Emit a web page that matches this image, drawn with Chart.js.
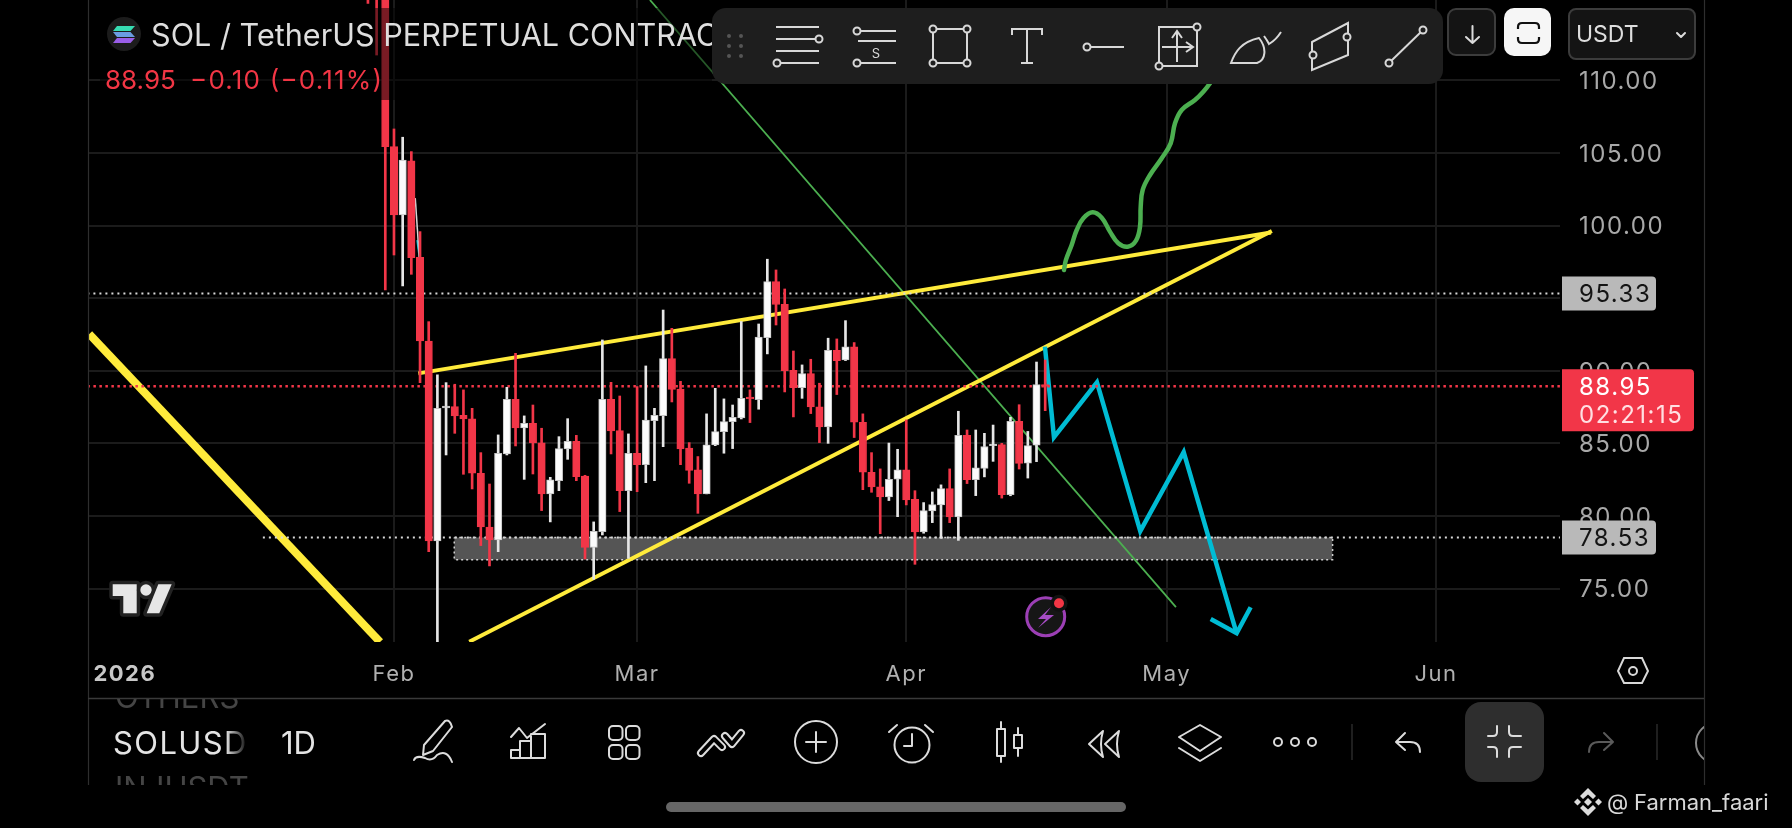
<!DOCTYPE html>
<html>
<head>
<meta charset="utf-8">
<title>SOLUSDT 1D</title>
<script src="https://cdn.jsdelivr.net/npm/chart.js@4"></script>
<style>
html, body { margin: 0; padding: 0; background: #000; width: 1792px; height: 828px; overflow: hidden; }
#wrap { position: relative; width: 1792px; height: 828px; }
canvas { position: absolute; left: 0; top: 0; }
svg { position: absolute; left: 0; top: 0; font-family: Inter, sans-serif; }
.ic { fill: none; stroke: #dcdcdc; stroke-width: 2; stroke-linecap: round; stroke-linejoin: round; }
.tb { fill: none; stroke: #d8d8d8; stroke-width: 2; }
.kn { fill: #1e1e1e; stroke: #d8d8d8; stroke-width: 2; }
</style>
</head>
<body>
<div id="wrap">
<canvas id="grafica" width="1792" height="828"></canvas>
<svg width="1792" height="828" viewBox="0 0 1792 828">
  <defs>
    <linearGradient id="fade" gradientUnits="userSpaceOnUse" x1="226" x2="248" y1="0" y2="0">
      <stop offset="0" stop-color="#e4e4e4"/><stop offset="1" stop-color="#e4e4e4" stop-opacity="0"/>
    </linearGradient>
    <clipPath id="clipOthers"><rect x="88" y="699" width="160" height="30"/></clipPath>
    <clipPath id="clipInj"><rect x="88" y="760" width="160" height="25"/></clipPath>
    <clipPath id="clipRight"><rect x="1680" y="700" width="24" height="85"/></clipPath>
  </defs>

  <!-- legend backdrop + title -->
  <rect x="100" y="8" width="612" height="92" fill="rgba(0,0,0,0.5)"/>
  <circle cx="124" cy="34" r="17" fill="#1c1c1c"/>
  <path d="M117 26 H135 L130.5 31 H113 Z" fill="#37dcb2"/>
  <path d="M113 32 H130.5 L135 37 H117 Z" fill="#6a9de2"/>
  <path d="M117 38 H135 L130.5 43 H113 Z" fill="#9a5ee8"/>
  <text x="151" y="46" font-size="30.6" fill="#dedede">SOL / TetherUS PERPETUAL CONTRACT</text>
  <text x="105" y="89" font-size="26" fill="#f23645">88.95</text>
  <text x="190" y="89" font-size="26" fill="#f23645" textLength="192" lengthAdjust="spacing">−0.10 (−0.11%)</text>

  <!-- tradingview logo -->
  <g fill="#e6e6e6" stroke="#222" stroke-width="7" paint-order="stroke" stroke-linejoin="round">
    <path d="M112.7 584.3 H136.7 V613.3 H123.3 V596 H112.7 Z"/>
    <circle cx="146" cy="590" r="5.7"/>
    <path d="M158.3 584.3 H171.7 L159.3 613.3 H146.7 Z"/>
  </g>

  <!-- lightning badge -->
  <circle cx="1045.7" cy="616.7" r="19" fill="#161616" stroke="#9c3fb5" stroke-width="3"/>
  <path d="M1051 607 L1038 619 L1046 619 L1038 628 L1054 615 L1045 615 Z" fill="#a64cc4"/>
  <circle cx="1059" cy="603.3" r="8.5" fill="#111"/>
  <circle cx="1059" cy="603.3" r="5" fill="#f23645"/>

  <!-- floating drawing toolbar -->
  <rect x="712" y="8" width="731" height="76" rx="14" fill="#1e1e1e"/>
  <g fill="#555">
    <circle cx="729" cy="36" r="2"/><circle cx="741" cy="36" r="2"/>
    <circle cx="729" cy="46" r="2"/><circle cx="741" cy="46" r="2"/>
    <circle cx="729" cy="56" r="2"/><circle cx="741" cy="56" r="2"/>
  </g>
  <path class="tb" d="M776 27 H819 M776 39 H816 M776 51 H819 M780 63 H819"/>
  <circle class="kn" cx="819" cy="39" r="3.5"/><circle class="kn" cx="777" cy="63" r="3.5"/>
  <path class="tb" d="M860 31 H896 M858 41 H896 M860 63 H896"/>
  <circle class="kn" cx="857" cy="31" r="3.5"/><circle class="kn" cx="857" cy="63" r="3.5"/>
  <text x="876" y="58" font-size="13" fill="#d8d8d8" text-anchor="middle">S</text>
  <path class="tb" d="M933 29 H967 V63 H933 Z"/>
  <circle class="kn" cx="933" cy="29" r="3.5"/><circle class="kn" cx="967" cy="29" r="3.5"/>
  <circle class="kn" cx="933" cy="63" r="3.5"/><circle class="kn" cx="967" cy="63" r="3.5"/>
  <path class="tb" d="M1012 35 V29 H1042 V35 M1027 29 V63 M1021 63 H1033"/>
  <path class="tb" d="M1090 47 H1124"/><circle class="kn" cx="1087" cy="47" r="3.5"/>
  <path class="tb" d="M1159 66 V27 H1197 V66 Z M1177 62 V31 M1172 38 L1177 31 L1182 38 M1162 47 H1193 M1186 42 L1193 47 L1186 52"/>
  <circle class="kn" cx="1197" cy="27" r="3.5"/><circle class="kn" cx="1159" cy="66" r="3.5"/>
  <path class="tb" d="M1231 63 C1235 52 1241 42 1259 38 C1267 48 1266 60 1257 63 Z M1264 36 Q1267 40 1269 44 Q1276 40 1281 32"/>
  <path class="tb" d="M1312 42 L1348 23 V55 L1312 70 Z"/>
  <circle class="kn" cx="1313" cy="55" r="3.5"/><circle class="kn" cx="1347" cy="37" r="3.5"/>
  <path class="tb" d="M1389 63 L1423 30"/>
  <circle class="kn" cx="1389" cy="63" r="3.5"/><circle class="kn" cx="1423" cy="30" r="3.5"/>

  <!-- top right buttons -->
  <rect x="1448" y="9" width="47" height="46" rx="8" fill="#141414" stroke="#3c3c3c" stroke-width="2"/>
  <path class="ic" d="M1472.5 26 V43 M1466 37 L1472.5 43 L1479 37"/>
  <rect x="1504" y="8" width="47" height="48" rx="10" fill="#f6f6f6"/>
  <path d="M1518 29 V27 Q1518 23 1522 23 H1535 Q1539 23 1539 27 V29 M1518 37 V39 Q1518 43 1522 43 H1535 Q1539 43 1539 39 V37" fill="none" stroke="#111" stroke-width="2.2"/>
  <rect x="1569" y="9" width="126" height="50" rx="7" fill="#141414" stroke="#3c3c3c" stroke-width="2"/>
  <text x="1576" y="42" font-size="23" fill="#dedede">USDT</text>
  <path class="ic" d="M1677 33 L1681 37 L1685 33"/>

  <!-- frame -->
  <path d="M88.5 0 V785 M1704.5 0 V785" stroke="#2e2e2e" stroke-width="1.2" fill="none"/>
  <path d="M88 698.5 H1704" stroke="#3a3a3a" stroke-width="1.5" fill="none"/>
  <path d="M1624 658 H1642 L1648 671 L1642 683 H1624 L1618 671 Z" fill="none" stroke="#d8d8d8" stroke-width="2"/>
  <circle cx="1633" cy="671" r="4" fill="none" stroke="#d8d8d8" stroke-width="2"/>

  <!-- bottom bar -->
  <g clip-path="url(#clipOthers)"><text x="115" y="708" font-size="31" fill="#454545">OTHERS</text></g>
  <text x="113" y="754" font-size="31" letter-spacing="1.4" fill="url(#fade)">SOLUSDT</text>
  <text x="281" y="754" font-size="31" fill="#e4e4e4">1D</text>
  <g clip-path="url(#clipInj)"><text x="115" y="799" font-size="31" fill="#454545">INJUSDT</text></g>

  <path class="ic" d="M445 721 Q450 719 452 727 L433 751 L423 755 L424 745 Z M414 760 Q416 755 425 758 Q432 762 437 755 Q447 749 452 762"/>
  <path class="ic" stroke-width="2.5" d="M511 737 L519 728 L527 738 L545 724 M511 758 V750 H520 V741 H531 V734 H545 V758 Z M520 750 V758 M531 741 V758"/>
  <g class="ic"><rect x="609" y="726" width="13.5" height="14" rx="4"/><rect x="626" y="726" width="13.5" height="14" rx="4"/><rect x="609" y="745" width="13.5" height="14" rx="4"/><rect x="626" y="745" width="13.5" height="14" rx="4"/></g>
  <path d="M701 753 L714 739 L722 747 M725 736 L732 744 L741 733" fill="none" stroke="#dcdcdc" stroke-width="8" stroke-linecap="round" stroke-linejoin="round"/>
  <path d="M701 753 L714 739 L722 747 M725 736 L732 744 L741 733" fill="none" stroke="#000" stroke-width="4" stroke-linecap="round" stroke-linejoin="round"/>
  <circle class="ic" cx="816" cy="742" r="21"/>
  <path class="ic" d="M816 732 V752 M806 742 H826"/>
  <circle class="ic" cx="912" cy="745" r="17.5"/>
  <path class="ic" d="M912 734 V746 H904 M897 725 L889 732 M925 725 L933 732"/>
  <path class="ic" d="M1001 722 V729 M1001 756 V762 M1018 728 V735 M1018 748 V756"/>
  <rect class="ic" x="997" y="729" width="8" height="27"/><rect class="ic" x="1014" y="735" width="8" height="13"/>
  <path class="ic" d="M1103 731 L1089 744 L1103 757 Q1099 744 1103 731 Z M1119 731 L1105 744 L1119 757 Q1115 744 1119 731 Z"/>
  <path class="ic" d="M1200 725 L1221 737 L1200 751 L1179 737 Z M1179 748 L1200 761 L1221 748"/>
  <circle class="ic" cx="1278" cy="742" r="4"/><circle class="ic" cx="1295" cy="742" r="4"/><circle class="ic" cx="1312" cy="742" r="4"/>
  <path d="M1352 724 V760 M1657 724 V760" stroke="#2a2a2a" stroke-width="1.5"/>
  <path class="ic" d="M1405 733 L1396 742 L1405 750 M1396 742 H1410 Q1420 742 1420 752"/>
  <rect x="1465" y="702" width="79" height="80" rx="16" fill="#2e2e2e"/>
  <path class="ic" d="M1497 726 V732 Q1497 736 1493 736 H1488 M1509 726 V732 Q1509 736 1513 736 H1521 M1488 747 H1493 Q1497 747 1497 751 V757 M1521 747 H1513 Q1509 747 1509 751 V757"/>
  <path d="M1604 733 L1613 742 L1604 750 M1613 742 H1599 Q1589 742 1589 752" fill="none" stroke="#5a5a5a" stroke-width="2" stroke-linecap="round" stroke-linejoin="round"/>
  <g clip-path="url(#clipRight)"><circle cx="1716" cy="743" r="20" fill="none" stroke="#8a8a8a" stroke-width="2"/></g>

  <rect x="666" y="802" width="460" height="10" rx="5" fill="#666"/>

  <!-- watermark -->
  <g fill="#dcdcdc">
    <path d="M1588 788 L1596 796 L1593 799 L1588 794.5 L1583 799 L1580 796 Z"/>
    <path d="M1588 816 L1596 808 L1593 805 L1588 809.5 L1583 805 L1580 808 Z"/>
    <path d="M1574 802 L1577.5 798.5 L1581 802 L1577.5 805.5 Z"/>
    <path d="M1595 802 L1598.5 798.5 L1602 802 L1598.5 805.5 Z"/>
    <path d="M1584 802 L1588 798 L1592 802 L1588 806 Z"/>
  </g>
  <text x="1607" y="810" font-size="22" fill="#d8d8d8">@</text>
  <text x="1634" y="810" font-size="22" fill="#d8d8d8">Farman_faari</text>
</svg>
</div>
<script>
// day number counted from 1 Jan 2026
const candleDays = [28,29,30,31,32,33,34,35,36,37,38,39,40,41,42,43,44,45,46,47,48,49,50,51,52,53,54,55,56,57,58,59,60,61,62,63,64,65,66,67,68,69,70,71,72,73,74,75,76,77,78,79,80,81,82,83,84,85,86,87,88,89,90,91,92,93,94,95,96,97,98,99,100,101,102,103,104,105,106]
const opens = [132,126,118,105.44,100.74,104.46,97.82,92.06,78.29,87.45,87.54,86.94,86.69,82.95,79.25,78.36,84.28,88.04,86.07,86.39,85.04,81.52,82.44,84.62,85.15,82.76,77.85,78.93,88.04,85.89,81.75,84.32,83.54,86.57,86.92,90.84,88.75,84.69,83.18,81.53,84.9,85.82,86.51,86.76,88.2,88.02,92.29,96.15,94.59,90.04,88.85,89.81,87.52,86.14,91.42,90.75,91.65,86.46,83.02,82.01,81.32,82.54,83.18,81.16,78.91,80.35,80.77,81.89,79.94,85.57,82.51,83.29,84.85,84.92,81.47,86.52,83.65,84.88,89.05]
const highs = [133,127,119,106.66,106.09,105.1,99.59,93.39,89.72,89.19,89.08,88.69,87.42,84.37,82.21,85.59,88.87,91.21,86.9,87.65,86.05,82.67,85.47,86.71,85.56,82.81,79.6,92.13,89.21,88.27,85.66,88.92,90.34,87.42,94.19,92.93,89.28,85.06,84.1,87.04,88.8,88.07,87.65,93.4,88.69,93.23,97.69,96.95,95.64,91.37,90.41,90.8,89.15,92.25,92.2,93.46,91.95,87.04,84.37,83.25,85.03,84.6,86.62,81.75,80.93,81.66,82.15,83.25,87.22,85.93,85.93,85.7,86.27,85.01,86.8,87.67,85.83,90.61,90.75]
const lows = [115.3,111.75,95.57,97.98,95.85,96.65,89.19,77.55,71,84.21,85.7,82.88,81.87,77.97,76.57,77.55,84.21,84.83,82.53,82.9,80.38,79.6,81.75,83.91,82.44,77.05,75.65,78.7,84.28,80.31,77.09,81.68,82.3,82.44,84.78,87.86,83.54,82.26,80.19,81.53,84.85,84.33,84.65,86.69,86.44,87.36,91.17,93.16,88.55,86.83,88.11,87.06,85.06,85.01,88.37,90.71,85.41,81.82,81.64,78.79,81.07,79.96,80.77,76.68,78.82,79.55,78.47,79.55,78.33,82.24,81.41,82.7,83.77,81.24,81.4,83.24,82.62,83.75,87.26]
const closes = [126,118,105.44,100.74,104.52,97.8,92.06,78.29,87.42,87.58,86.9,86.69,82.95,79.25,78.36,84.32,88.04,86.07,86.39,85.04,81.52,82.49,84.65,85.15,82.72,77.85,78.95,88.04,85.86,81.75,84.32,83.54,86.62,86.94,90.84,88.73,84.62,83.15,81.53,84.9,85.82,86.51,86.81,88.11,88.07,92.32,96.15,94.57,90.02,88.85,89.81,87.52,86.14,91.42,90.71,91.65,86.46,83.02,82.01,81.32,82.54,83.18,81.11,78.91,80.38,80.79,81.89,79.94,85.57,82.51,83.32,84.79,84.96,81.47,86.52,83.63,84.85,89.05,88.95]

const priceTicks = [75,80,85,90,95,100,105,110,115]
const monthTicks = [0,31,59,90,120,151]
const monthLabels = ['2026','Feb','Mar','Apr','May','Jun']

const lastPrice = 88.95
const countdown = '02:21:15'
const resistance = 95.33
const support = 78.53
const zoneBottom = 77
const zoneDays = [37.94,139.1]

// drawings, [day, price]
const wedgeTop = [[33.8,89.83],[132,99.53]]
const wedgeBottom = [[39.67,71.35],[132.1,99.63]]
const bigYellow = [[-4.1,92.54],[29.4,71.33]]
const thinGreen = [[60.48,115.54],[121.06,73.73]]
const strayWhite = [[33.45,101.9],[33.91,97.84]]
const strayCyan = [[33.65,99],[33.91,97.84]]
const greenPath = [[108.16,96.95],[108.39,97.64],[109.05,98.67],[109.63,99.7],[110.39,100.51],[111.47,100.92],[112.51,100.55],[113.46,99.59],[114.42,98.79],[115.5,98.55],[116.46,98.97],[116.92,99.93],[117,101.31],[117.23,102.46],[118.07,103.49],[119.42,104.64],[120.45,105.67],[120.95,107.05],[121.72,107.97],[123.25,108.66],[124.21,109.23],[124.98,109.81],[126.71,111.41]]
const cyanPath = [[105.97,91.67],[107.01,85.43],[111.96,89.21],[116.95,78.97],[121.95,84.41],[128.05,71.93]]
const cyanHead = [[125.06,72.91],[128.05,71.93],[129.66,73.72]]

const RED = '#f23648'
const WHITE = '#fbfbfb'
const GRID = '#1b1b1b'
const FONT = 'Inter, sans-serif'

const esSube = i => closes[i] >= opens[i]
const puntos = arr => arr.map(p => ({ x: p[0], y: p[1] }))
const linea = (arr, color, width, order, extra) => Object.assign({
    type: 'line',
    data: puntos(arr),
    borderColor: color,
    borderWidth: width,
    pointRadius: 0,
    tension: 0,
    fill: false,
    order: order
}, extra || {})

const wicks = candleDays.map((d, i) => ({ x: d, y: [lows[i], highs[i]] }))
const bodies = candleDays.map((d, i) => ({ x: d, y: [opens[i], closes[i]] }))

// price tags on the axis
const etiquetas = {
    id: 'etiquetas',
    beforeDraw(chart) {
        chart.ctx.letterSpacing = '1.5px'
    },
    afterDraw(chart) {
        const { ctx, scales } = chart
        const y = scales.y
        const tag = (value, color, textColor) => {
            const py = y.getPixelForValue(value)
            ctx.fillStyle = color
            ctx.beginPath()
            ctx.roundRect(1562, py - 17, 94, 34, [0, 4, 4, 0])
            ctx.fill()
            ctx.fillStyle = textColor
            ctx.font = '24px ' + FONT
            ctx.textAlign = 'left'
            ctx.textBaseline = 'middle'
            ctx.fillText(value.toFixed(2), 1579, py + 1.5)
        }
        tag(resistance, '#b9b9b9', '#141414')
        tag(support, '#b9b9b9', '#141414')

        const py = y.getPixelForValue(lastPrice)
        ctx.fillStyle = RED
        ctx.beginPath()
        ctx.roundRect(1562, py - 17, 132, 62, [0, 4, 4, 0])
        ctx.fill()
        ctx.font = '24px ' + FONT
        ctx.textAlign = 'left'
        ctx.textBaseline = 'middle'
        ctx.fillStyle = '#ffffff'
        ctx.fillText(lastPrice.toFixed(2), 1579, py + 1.5)
        ctx.fillStyle = '#ffdfe2'
        ctx.fillText(countdown, 1579, py + 29.5)
    }
}

new Chart(document.getElementById('grafica'), {
    type: 'bar',
    data: {
        datasets: [
            // body on top, wick under it, drawings and zone below the candles
            { data: bodies, grouped: false, order: 1, barPercentage: 1, categoryPercentage: 1, maxBarThickness: 7.4,
              backgroundColor: bodies.map((b, i) => esSube(i) ? WHITE : RED),
              borderColor: bodies.map((b, i) => esSube(i) ? '#c4c4c4' : RED),
              borderWidth: 1, borderSkipped: false },
            { data: wicks, grouped: false, order: 2, barPercentage: 1, categoryPercentage: 1, maxBarThickness: 2,
              backgroundColor: wicks.map((w, i) => esSube(i) ? '#e6e6e6' : RED) },
            linea([[-5, resistance], [166, resistance]], '#d8d8d8', 2, 3, { borderDash: [2, 4] }),
            linea([[-5, lastPrice], [166, lastPrice]], RED, 2.5, 3, { borderDash: [2.5, 3.5] }),
            linea([[15.9, support], [166, support]], '#d8d8d8', 2, 3, { borderDash: [2, 4] }),
            linea(cyanPath, '#00bcd4', 4.5, 4),
            linea(cyanHead, '#00bcd4', 4.5, 4),
            linea(greenPath, '#4caf50', 4.5, 4, { tension: 0.4, borderCapStyle: 'round' }),
            linea(wedgeTop, '#ffeb3b', 4, 5),
            linea(wedgeBottom, '#ffeb3b', 4, 5),
            linea(bigYellow, '#ffeb3b', 8, 5),
            linea(thinGreen, '#4caf50', 1.8, 5),
            linea(strayWhite, '#d8d8d8', 1.5, 5),
            linea(strayCyan, '#00bcd4', 1.5, 5),
            linea([[zoneDays[0], support], [zoneDays[1], support], [zoneDays[1], zoneBottom], [zoneDays[0], zoneBottom], [zoneDays[0], support]],
                '#d0d0d0', 1.5, 6, { borderDash: [2, 3] }),
            linea([[zoneDays[0], support], [zoneDays[1], support]], 'rgba(0,0,0,0)', 0, 7,
                { fill: { value: zoneBottom }, backgroundColor: '#555555' })
        ]
    },
    options: {
        responsive: false,
        animation: false,
        devicePixelRatio: 1,
        layout: { padding: { left: 88, right: 88, top: 0, bottom: 130 } },
        plugins: { legend: { display: false }, tooltip: { enabled: false } },
        scales: {
            x: {
                type: 'linear',
                min: -4.24,
                max: 165.29,
                offset: false,
                border: { display: false },
                grid: {
                    offset: false,
                    drawTicks: false,
                    lineWidth: 2,
                    color: ctx => ctx.tick && ctx.tick.value === 0 ? 'rgba(0,0,0,0)' : GRID
                },
                afterBuildTicks: axis => { axis.ticks = monthTicks.map(v => ({ value: v })) },
                afterFit: axis => { axis.height = 56 },
                ticks: {
                    autoSkip: false,
                    maxRotation: 0,
                    minRotation: 0,
                    padding: 19,
                    color: ctx => ctx.tick.value === 0 ? '#c8c8c8' : '#b0b0b0',
                    font: ctx => ({ family: FONT, size: 22, weight: ctx.tick && ctx.tick.value === 0 ? '700' : '400' }),
                    callback: v => monthLabels[monthTicks.indexOf(v)]
                }
            },
            y: {
                position: 'right',
                min: 71.33,
                max: 115.54,
                border: { display: false },
                grid: { drawTicks: false, lineWidth: 2, color: GRID },
                afterBuildTicks: axis => { axis.ticks = priceTicks.map(v => ({ value: v })) },
                afterFit: axis => {
                    axis.width = 144
                    axis.paddingTop = 0
                    axis.paddingBottom = 0
                },
                ticks: {
                    autoSkip: false,
                    padding: 19,
                    labelOffset: 1.5,
                    color: '#a8a8a8',
                    font: { family: FONT, size: 24 },
                    callback: v => v === 115 ? null : v.toFixed(2)
                }
            }
        }
    },
    plugins: [etiquetas]
})
</script>
</body>
</html>
